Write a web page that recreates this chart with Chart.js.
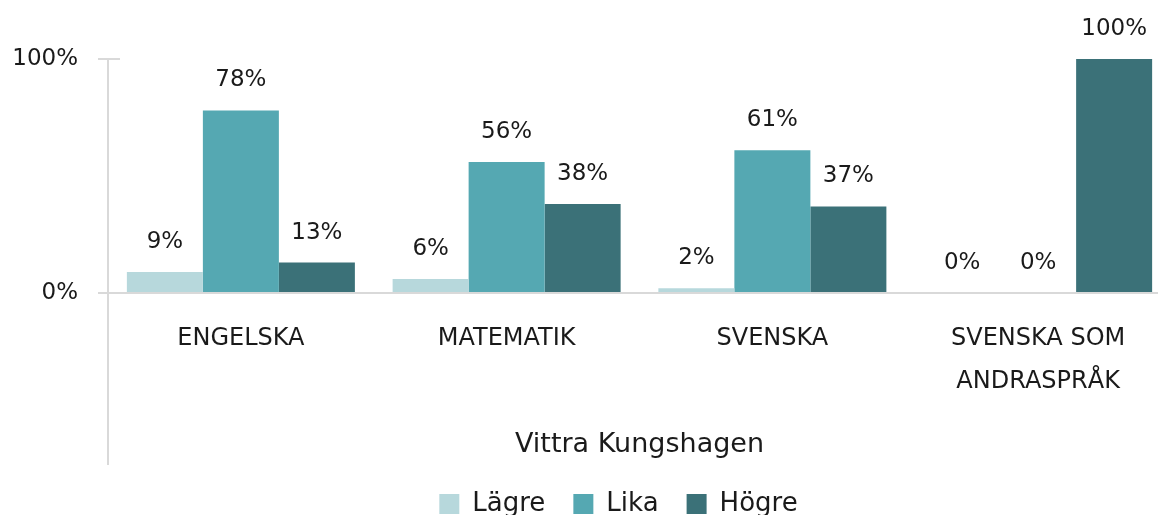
<!DOCTYPE html>
<html>
<head>
<meta charset="utf-8">
<script src="https://cdn.jsdelivr.net/npm/chart.js@4/dist/chart.umd.min.js"></script>
<style>
  html, body { margin: 0; padding: 0; background: #ffffff; overflow: hidden; }
  #wrap { width: 1158px; height: 515px; position: relative; overflow: hidden; }
  #c { position: absolute; left: 0; top: 0; }
</style>
</head>
<body>
<div id="wrap"><canvas id="c" width="1171" height="523"></canvas></div>
<script>
const categories = ["ENGELSKA", "MATEMATIK", "SVENSKA", ["SVENSKA SOM", "ANDRASPRÅK"]];
const groupTitle = "Vittra Kungshagen";
const seriesNames = ["Lägre", "Lika", "Högre"];
const lagre = [9, 6, 2, 0];
const lika = [78, 56, 61, 0];
const hogre = [13, 38, 37, 100];
const yTicks = [0, 100];

const colors = ["#b7d8dc", "#55a8b2", "#3b7178"];
const FONT = "'DejaVu Sans', sans-serif";
const GRID = "#d9d9d9";
const LEGEND_SHIFT_X = 33;
const LEGEND_SHIFT_Y = 4;

const decor = {
  id: "decor",
  afterLayout(chart) {
    if (chart.legend) {
      chart.legend.left += LEGEND_SHIFT_X;
      chart.legend.right += LEGEND_SHIFT_X;
      chart.legend.top += LEGEND_SHIFT_Y;
      chart.legend.bottom += LEGEND_SHIFT_Y;
    }
  },
  afterDraw(chart) {
    const ctx = chart.ctx;
    const y = chart.scales.y;
    ctx.save();
    ctx.strokeStyle = GRID;
    ctx.lineWidth = 2;
    // category-axis left divider extending below zero line
    ctx.beginPath();
    ctx.moveTo(chart.chartArea.left, chart.chartArea.bottom);
    ctx.lineTo(chart.chartArea.left, chart.chartArea.bottom + 172);
    ctx.stroke();
    // right half of the 100% tick mark
    const p = y.getPixelForValue(100);
    ctx.beginPath();
    ctx.moveTo(chart.chartArea.left, p);
    ctx.lineTo(chart.chartArea.left + 12, p);
    ctx.stroke();
    ctx.restore();
  },
  afterDatasetsDraw(chart) {
    const ctx = chart.ctx;
    ctx.save();
    ctx.font = "23px " + FONT;
    ctx.fillStyle = "#1a1a1a";
    ctx.textAlign = "center";
    ctx.textBaseline = "alphabetic";
    chart.data.datasets.forEach((ds, i) => {
      const meta = chart.getDatasetMeta(i);
      meta.data.forEach((bar, j) => {
        ctx.fillText(ds.data[j] + "%", bar.x, bar.y - 24);
      });
    });
    ctx.restore();
  }
};

new Chart(document.getElementById("c"), {
  type: "bar",
  data: {
    labels: categories,
    datasets: [
      { label: seriesNames[0], data: lagre, backgroundColor: colors[0], borderWidth: 0 },
      { label: seriesNames[1], data: lika, backgroundColor: colors[1], borderWidth: 0 },
      { label: seriesNames[2], data: hogre, backgroundColor: colors[2], borderWidth: 0 }
    ]
  },
  options: {
    responsive: false,
    animation: false,
    devicePixelRatio: 1,
    layout: { padding: { top: 59, right: 0, left: 0, bottom: 0 } },
    datasets: { bar: { categoryPercentage: 0.858, barPercentage: 1.0 } },
    plugins: {
      legend: {
        position: "bottom",
        labels: {
          font: { family: FONT, size: 26 },
          color: "#1a1a1a",
          boxWidth: 20,
          boxHeight: 20,
          padding: 28
        }
      },
      tooltip: { enabled: false },
      title: { display: false }
    },
    scales: {
      x: {
        grid: { display: false, drawTicks: false },
        border: { display: true, color: GRID, width: 2 },
        ticks: {
          font: { family: FONT, size: 24, lineHeight: 1.8 },
          color: "#1a1a1a",
          padding: 24,
          maxRotation: 0,
          autoSkip: false
        },
        title: {
          display: true,
          text: groupTitle,
          font: { family: FONT, size: 27 },
          color: "#1a1a1a",
          padding: { top: 0, bottom: -2 }
        },
        afterFit(scale) { scale.height = 166; }
      },
      y: {
        min: 0,
        max: 100,
        afterBuildTicks(scale) { scale.ticks = yTicks.map(v => ({ value: v })); },
        grid: { drawOnChartArea: false, drawTicks: true, tickLength: 10, color: GRID, lineWidth: 2 },
        border: { display: true, color: GRID, width: 2 },
        ticks: {
          font: { family: FONT, size: 23 },
          color: "#1a1a1a",
          padding: 20,
          callback: v => v + "%"
        },
        afterFit(scale) { scale.width = 108; }
      }
    }
  },
  plugins: [decor]
});
</script>
</body>
</html>
